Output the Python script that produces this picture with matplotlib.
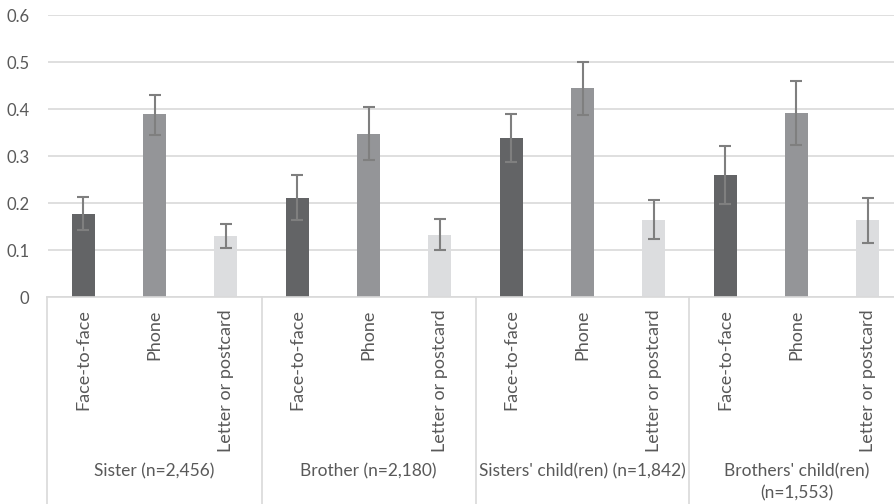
import matplotlib
matplotlib.use("Agg")
import matplotlib.pyplot as plt
from matplotlib.transforms import blended_transform_factory

# Contact mode shares by relative type, with confidence intervals
groups = ["Sister (n=2,456)", "Brother (n=2,180)",
          "Sisters' child(ren) (n=1,842)", "Brothers' child(ren)\n(n=1,553)"]
modes = ["Face-to-face", "Phone", "Letter or postcard"]

face_to_face = [0.177, 0.211, 0.338, 0.260]
phone = [0.389, 0.347, 0.445, 0.392]
letter = [0.130, 0.132, 0.165, 0.163]

face_lo = [0.142, 0.163, 0.287, 0.199]
face_hi = [0.213, 0.260, 0.389, 0.322]
phone_lo = [0.346, 0.292, 0.388, 0.323]
phone_hi = [0.431, 0.404, 0.500, 0.460]
letter_lo = [0.105, 0.100, 0.123, 0.116]
letter_hi = [0.156, 0.166, 0.206, 0.211]

yticks = [0, 0.1, 0.2, 0.3, 0.4, 0.5, 0.6]
ytick_labels = ["0", "0.1", "0.2", "0.3", "0.4", "0.5", "0.6"]

mode_colors = ["#636466", "#949598", "#dcdddf"]
text_color = "#595959"
grid_color = "#d9d9d9"
err_color = "#7f7f7f"

plt.rcParams["font.family"] = ["Lato", "DejaVu Sans"]

W, H = 894, 504
fig = plt.figure(figsize=(W / 100, H / 100), dpi=100)
# axes spans slightly past the right edge of the canvas
x0, x1 = 47.5, 903.5
y_top, y_zero = 15.3, 297.0
ax = fig.add_axes([x0 / W, (H - y_zero) / H, (x1 - x0) / W, (y_zero - y_top) / H])

series = [
    (face_to_face, face_lo, face_hi),
    (phone, phone_lo, phone_hi),
    (letter, letter_lo, letter_hi),
]
n_modes = len(modes)
for m, (vals, lo, hi) in enumerate(series):
    xs = [g * n_modes + m for g in range(len(groups))]
    ax.bar(xs, vals, width=0.32, color=mode_colors[m], zorder=2)
    yerr = [[v - l for v, l in zip(vals, lo)], [h - v for v, h in zip(vals, hi)]]
    ax.errorbar(xs, vals, yerr=yerr, fmt="none", ecolor=err_color,
                elinewidth=1.5, capsize=4.5, capthick=1.5, zorder=3)

ax.set_xlim(-0.5, len(groups) * n_modes - 0.5)
ax.set_ylim(0, 0.6)
ax.set_yticks(yticks)
ax.set_yticklabels(ytick_labels)
ax.yaxis.grid(True, color=grid_color, linewidth=1.2, zorder=0)
ax.set_axisbelow(True)
for side in ["top", "right", "left"]:
    ax.spines[side].set_visible(False)
ax.spines["bottom"].set_color(grid_color)
ax.spines["bottom"].set_linewidth(1.2)
ax.tick_params(axis="y", length=0, pad=13, labelsize=12, labelcolor=text_color)

xt = [g * n_modes + m for g in range(len(groups)) for m in range(n_modes)]
ax.set_xticks(xt)
ax.set_xticklabels(modes * len(groups), rotation=90)
ax.tick_params(axis="x", length=0, pad=9, labelsize=13, labelcolor=text_color)

# group dividers and group labels below the category axis
tr = blended_transform_factory(ax.transData, fig.transFigure)
for g in range(len(groups) + 1):
    xb = g * n_modes - 0.5
    ax.plot([xb, xb], [0, (H - y_zero) / H], transform=tr, color=grid_color,
            linewidth=1.2, clip_on=False)
for g, name in enumerate(groups):
    xc = g * n_modes + (n_modes - 1) / 2
    for i, line in enumerate(name.split("\n")):
        ax.text(xc, (H - 471 - 22 * i) / H, line, transform=tr, ha="center",
                va="center", fontsize=12.5, color=text_color)

fig.savefig("out.png", dpi=100)
